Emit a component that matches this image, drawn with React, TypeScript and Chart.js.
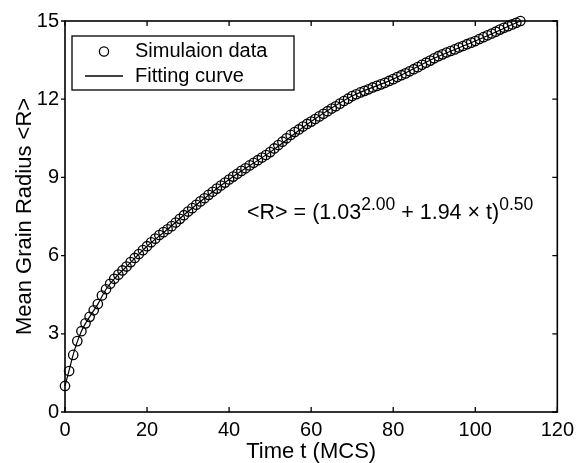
import React, { useEffect, useRef } from "react";
import { Chart, registerables } from "chart.js";

Chart.register(...registerables);

// Time steps (MCS) of the simulation points
const timeSteps: number[] = [
  0, 1, 2, 3, 4, 5, 6, 7, 8, 9, 10, 11, 12, 13, 14, 15, 16, 17, 18, 19,
  20, 21, 22, 23, 24, 25, 26, 27, 28, 29, 30, 31, 32, 33, 34, 35, 36, 37, 38, 39,
  40, 41, 42, 43, 44, 45, 46, 47, 48, 49, 50, 51, 52, 53, 54, 55, 56, 57, 58, 59,
  60, 61, 62, 63, 64, 65, 66, 67, 68, 69, 70, 71, 72, 73, 74, 75, 76, 77, 78, 79,
  80, 81, 82, 83, 84, 85, 86, 87, 88, 89, 90, 91, 92, 93, 94, 95, 96, 97, 98, 99,
  100, 101, 102, 103, 104, 105, 106, 107, 108, 109, 110, 111,
];

// Mean grain radius
const simRadius: number[] = [
  1.0, 1.57, 2.19, 2.72, 3.1, 3.4, 3.65, 3.9, 4.14, 4.47,
  4.71, 4.92, 5.11, 5.27, 5.43, 5.58, 5.75, 5.91, 6.06, 6.21,
  6.36, 6.51, 6.65, 6.79, 6.9, 7.01, 7.13, 7.27, 7.41, 7.55,
  7.69, 7.82, 7.95, 8.08, 8.2, 8.33, 8.45, 8.57, 8.69, 8.8,
  8.92, 9.03, 9.14, 9.25, 9.35, 9.46, 9.56, 9.66, 9.76, 9.86,
  9.97, 10.11, 10.24, 10.37, 10.5, 10.63, 10.74, 10.84, 10.95, 11.05,
  11.14, 11.24, 11.34, 11.44, 11.54, 11.64, 11.73, 11.83, 11.93, 12.02,
  12.12, 12.19, 12.26, 12.32, 12.38, 12.45, 12.51, 12.57, 12.63, 12.7,
  12.77, 12.85, 12.92, 12.99, 13.07, 13.15, 13.23, 13.32, 13.4, 13.48,
  13.57, 13.65, 13.72, 13.79, 13.85, 13.91, 13.98, 14.04, 14.11, 14.17,
  14.23, 14.31, 14.38, 14.45, 14.52, 14.59, 14.67, 14.74, 14.8, 14.87,
  14.93, 15.0,
];

// Fitting curve as seen under the markers
const fitTimes: number[] = [0, 1, 2, 3, 4, 5, 6, 8, 10, 12, 15, 20, 25, 30, 40, 50, 60, 70, 80, 90, 100, 111];
const fitRadius: number[] = [1.0, 1.6, 2.2, 2.7, 3.1, 3.4, 3.65, 4.14, 4.71, 5.11, 5.58, 6.36, 7.01, 7.69, 8.92, 9.97, 11.14, 12.12, 12.77, 13.57, 14.23, 15.0];

const xTicks: number[] = [0, 20, 40, 60, 80, 100, 120];
const yTicks: number[] = [0, 3, 6, 9, 12, 15];

const legendLabels: string[] = ["Simulaion data", "Fitting curve"];
const xTitle = "Time t (MCS)";
const yTitle = "Mean Grain Radius <R>";
const eqParts: { text: string; sup: boolean }[] = [
  { text: "<R> = (1.03", sup: false },
  { text: "2.00", sup: true },
  { text: " + 1.94 \u00d7 t)", sup: false },
  { text: "0.50", sup: true },
];

const FONT = "Arial, 'Liberation Sans', Helvetica, sans-serif";

const framePlugin = {
  id: "framePlugin",
  afterDraw(chart: any) {
    const ctx = chart.ctx as CanvasRenderingContext2D;
    const { left, right, top, bottom } = chart.chartArea;
    const xs = chart.scales.x;
    const ys = chart.scales.y;
    ctx.save();
    ctx.strokeStyle = "#000";
    ctx.lineWidth = 1.6;
    ctx.strokeRect(left, top, right - left, bottom - top);
    ctx.lineWidth = 1.3;
    const tl = 5;
    ctx.beginPath();
    xTicks.forEach((v) => {
      const px = xs.getPixelForValue(v);
      ctx.moveTo(px, bottom);
      ctx.lineTo(px, bottom - tl);
      ctx.moveTo(px, top);
      ctx.lineTo(px, top + tl);
    });
    yTicks.forEach((v) => {
      const py = ys.getPixelForValue(v);
      ctx.moveTo(left, py);
      ctx.lineTo(left - 4, py);
      ctx.moveTo(right, py);
      ctx.lineTo(right - tl, py);
    });
    ctx.stroke();

    // legend box
    const lx = 72, ly = 36, lw = 222, lh = 54;
    ctx.fillStyle = "#fff";
    ctx.fillRect(lx, ly, lw, lh);
    ctx.lineWidth = 1.3;
    ctx.strokeRect(lx, ly, lw, lh);
    ctx.beginPath();
    ctx.arc(104, 51.5, 4.6, 0, Math.PI * 2);
    ctx.lineWidth = 1.3;
    ctx.stroke();
    ctx.beginPath();
    ctx.moveTo(85, 76);
    ctx.lineTo(123, 76);
    ctx.lineWidth = 1.3;
    ctx.stroke();
    ctx.fillStyle = "#000";
    ctx.font = `20px ${FONT}`;
    ctx.textBaseline = "middle";
    ctx.textAlign = "left";
    ctx.fillText(legendLabels[0], 135, 51);
    ctx.fillText(legendLabels[1], 135, 76);

    // equation
    let x = 247;
    const base = 219;
    ctx.textBaseline = "alphabetic";
    eqParts.forEach((p) => {
      ctx.font = p.sup ? `17.5px ${FONT}` : `21.5px ${FONT}`;
      ctx.fillText(p.text, x, p.sup ? base - 9 : base);
      x += ctx.measureText(p.text).width;
    });
    ctx.restore();
  },
};

export default function App() {
  const ref = useRef<HTMLCanvasElement | null>(null);
  useEffect(() => {
    if (!ref.current) return;
    const chart = new Chart(ref.current, {
      type: "scatter",
      data: {
        datasets: [
          {
            label: legendLabels[0],
            data: timeSteps.map((t, i) => ({ x: t, y: simRadius[i] })),
            pointStyle: "circle",
            pointRadius: 4.7,
            pointBorderWidth: 1.3,
            pointBorderColor: "#000",
            pointBackgroundColor: "rgba(0,0,0,0)",
            showLine: false,
            clip: false,
            order: 1,
          },
          {
            label: legendLabels[1],
            data: fitTimes.map((t, i) => ({ x: t, y: fitRadius[i] })),
            showLine: true,
            borderColor: "#000",
            borderWidth: 1.2,
            pointRadius: 0,
            cubicInterpolationMode: "monotone",
            clip: false,
            order: 2,
          },
        ],
      },
      options: {
        animation: false,
        responsive: false,
        maintainAspectRatio: false,
        layout: { padding: { top: 21, right: 18, left: 0, bottom: 0 } },
        plugins: { legend: { display: false }, tooltip: { enabled: false } },
        scales: {
          x: {
            type: "linear",
            min: 0,
            max: 120,
            afterBuildTicks: (s: any) => {
              s.ticks = xTicks.map((v) => ({ value: v }));
            },
            afterFit: (s: any) => {
              s.height = 51;
            },
            grid: { display: false, drawTicks: false },
            border: { display: false },
            ticks: { color: "#000", font: { size: 20, family: FONT }, padding: 6, maxRotation: 0 },
            title: {
              display: true,
              text: xTitle,
              color: "#000",
              font: { size: 22, family: FONT, lineHeight: 1 },
              padding: { top: 0, bottom: 0 },
            },
          },
          y: {
            type: "linear",
            min: 0,
            max: 15,
            afterBuildTicks: (s: any) => {
              s.ticks = yTicks.map((v) => ({ value: v }));
            },
            afterFit: (s: any) => {
              s.width = 65;
            },
            grid: { display: false, drawTicks: false },
            border: { display: false },
            ticks: { color: "#000", font: { size: 20, family: FONT }, padding: 6 },
            title: {
              display: true,
              text: yTitle,
              color: "#000",
              font: { size: 22, family: FONT, lineHeight: 1 },
              padding: { top: 14, bottom: 0 },
            },
          },
        },
      },
      plugins: [framePlugin],
    } as any);
    return () => chart.destroy();
  }, []);
  return (
    <div style={{ position: "fixed", left: 0, top: 0, width: 580, height: 463, background: "#fff" }}>
      <canvas ref={ref} width={580} height={463} style={{ display: "block" }} />
    </div>
  );
}
